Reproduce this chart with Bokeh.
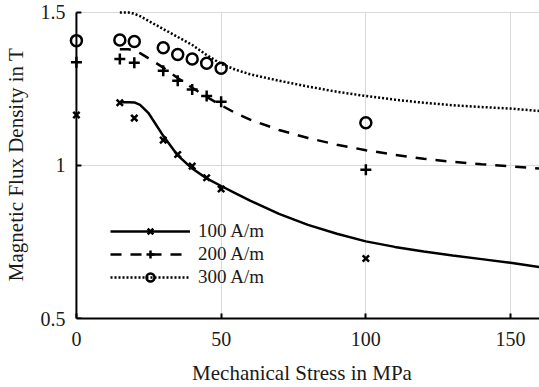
from bokeh.plotting import figure
from bokeh.models import Range1d, FixedTicker, Legend, LegendItem
from bokeh.embed import file_html
from bokeh.resources import INLINE

# measured points
stress_pts = [0, 15, 20, 30, 35, 40, 45, 50, 100]
b100_pts = [1.165, 1.205, 1.155, 1.083, 1.036, 0.998, 0.960, 0.923, 0.696]
b200_pts = [1.337, 1.348, 1.336, 1.310, 1.277, 1.248, 1.227, 1.208, 0.986]
b300_pts = [1.408, 1.410, 1.405, 1.385, 1.363, 1.348, 1.334, 1.318, 1.140]

# model curves
stress_curve = [15, 18, 20, 22, 25, 30, 35, 40, 45, 50, 55, 60, 70, 80, 90, 100,
                110, 120, 130, 140, 150, 160]
b100_curve = [1.207, 1.207, 1.206, 1.198, 1.170, 1.097, 1.033, 0.990, 0.958, 0.933,
              0.909, 0.885, 0.842, 0.806, 0.777, 0.752, 0.734, 0.719, 0.706, 0.694,
              0.682, 0.668]
b200_curve = [1.380, 1.380, 1.376, 1.367, 1.350, 1.320, 1.286, 1.254, 1.224, 1.197,
              1.171, 1.150, 1.116, 1.090, 1.068, 1.050, 1.035, 1.022, 1.012, 1.004,
              0.997, 0.990]
b300_curve = [1.500, 1.500, 1.496, 1.488, 1.472, 1.446, 1.420, 1.394, 1.361, 1.332,
              1.313, 1.298, 1.277, 1.258, 1.241, 1.227, 1.215, 1.205, 1.197, 1.191,
              1.186, 1.178]

labels = ["100 A/m", "200 A/m", "300 A/m"]
x_title = "Mechanical Stress in MPa"
y_title = "Magnetic Flux Density in T"
x_ticks = [0, 50, 100, 150]
y_ticks = [0.5, 1.0, 1.5]
x_lo, x_hi = 0, 160
y_lo, y_hi = 0.5, 1.5

FONT = "Liberation Serif"
TXT = "#1a1a1a"

p = figure(width=539, height=387, output_backend="svg", toolbar_location=None,
           x_range=Range1d(-4.12, x_hi), y_range=Range1d(y_lo, 1.5065),
           min_border_left=61, min_border_right=0, min_border_top=10,
           min_border_bottom=68)
p.outline_line_color = None

for ax in (p.xaxis[0], p.yaxis[0]):
    ax.axis_line_width = 2
    ax.axis_line_color = "black"
    ax.major_tick_in = 5
    ax.major_tick_out = 0
    ax.major_tick_line_width = 2
    ax.minor_tick_line_color = None
    ax.major_label_text_font = FONT
    ax.major_label_text_font_size = "20px"
    ax.major_label_text_color = TXT
    ax.axis_label_text_font = FONT
    ax.axis_label_text_font_size = "21px"
    ax.axis_label_text_font_style = "normal"
    ax.axis_label_text_color = TXT

xa, ya = p.xaxis[0], p.yaxis[0]
xa.ticker = FixedTicker(ticks=x_ticks)
ya.ticker = FixedTicker(ticks=y_ticks)
ya.major_label_overrides = {0.5: "0.5", 1.0: "1", 1.5: "1.5"}
xa.bounds = (x_lo, x_hi)
ya.bounds = (y_lo, y_hi)
xa.axis_label = x_title
ya.axis_label = y_title
xa.major_label_standoff = 13
xa.axis_label_standoff = 12
# the visible left axis line/ticks are drawn at x = 0 below
ya.axis_line_color = None
ya.major_tick_line_color = None
ya.major_label_standoff = -1
ya.axis_label_standoff = 10

p.xgrid[0].ticker = FixedTicker(ticks=x_ticks)
p.ygrid[0].ticker = FixedTicker(ticks=y_ticks)
p.xgrid[0].cross_bounds = (y_lo, y_hi)
p.ygrid[0].cross_bounds = (x_lo, x_hi)
p.xgrid.grid_line_color = "#d9d9d9"
p.ygrid.grid_line_color = "#d9d9d9"
p.xgrid.grid_line_width = 1
p.ygrid.grid_line_width = 1

# left axis line and inward ticks at x = 0
p.segment(x0=[x_lo], y0=[y_lo], x1=[x_lo], y1=[y_hi], line_color="black", line_width=2)
p.ray(x=[x_lo] * len(y_ticks), y=y_ticks, length=5, length_units="screen", angle=0,
      line_color="black", line_width=2)

l1 = p.line(stress_curve, b100_curve, line_color="black", line_width=2.5)
l2 = p.line(stress_curve, b200_curve, line_color="black", line_width=2.5, line_dash="11 9")
l3 = p.line(stress_curve, b300_curve, line_color="black", line_width=2.5, line_dash="2 2")

s1 = p.scatter(stress_pts, b100_pts, marker="x", size=9, line_color="black", line_width=2.5)
s2 = p.scatter(stress_pts, b200_pts, marker="cross", size=11, line_color="black", line_width=2.5)
s3 = p.scatter(stress_pts, b300_pts, marker="circle", size=11, line_color="black",
               line_width=2.5, fill_color=None)

legend = Legend(items=[LegendItem(label=labels[0], renderers=[l1, s1]),
                       LegendItem(label=labels[1], renderers=[l2, s2]),
                       LegendItem(label=labels[2], renderers=[l3, s3])],
                location=(46, 30), padding=0, margin=0, spacing=1,
                glyph_width=80, glyph_height=20, label_height=20, label_standoff=8,
                label_text_font=FONT, label_text_font_size="19px",
                label_text_color=TXT,
                background_fill_alpha=0, border_line_alpha=0)
p.add_layout(legend, "center")

open("out.html", "w").write(file_html(p, INLINE))
